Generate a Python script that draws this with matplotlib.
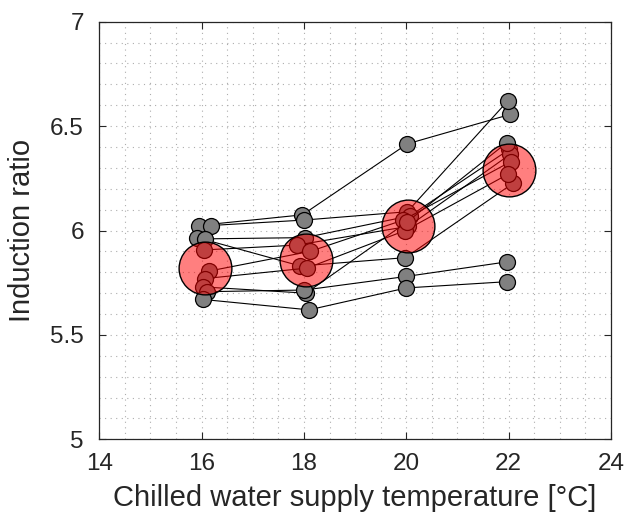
import matplotlib
matplotlib.use("Agg")
import matplotlib.pyplot as plt
from matplotlib.ticker import MultipleLocator

plt.rcParams["font.family"] = ["Liberation Sans", "DejaVu Sans"]

# nominal supply temperatures
temps = [16, 18, 20, 22]

# measured supply temperature (x) and induction ratio (y) for each test series
series_x = [
    [15.94, 17.97, 20.02, 22.03],
    [16.18, 18.00, 20.02, 21.98],
    [15.92, 17.93, 19.98, 22.09],
    [16.07, 18.02, 20.07, 22.01],
    [16.05, 17.86, 20.04, 22.03],
    [16.15, 18.12, 19.94, 22.04],
    [16.07, 18.06, 19.98, 21.99],
    [16.02, 18.04, 20.01, 21.96],
    [16.10, 18.01, 20.00, 21.97],
    [16.02, 18.10, 20.00, 21.97],
]
series_y = [
    [6.024, 6.075, 6.415, 6.556],
    [6.024, 6.050, 6.090, 6.620],
    [5.966, 5.830, 5.870, 6.227],
    [5.960, 5.966, 6.070, 6.388],
    [5.907, 5.930, 6.020, 6.365],
    [5.806, 5.900, 6.050, 6.330],
    [5.770, 5.820, 6.000, 6.270],
    [5.730, 5.700, 6.040, 6.420],
    [5.707, 5.715, 5.780, 5.850],
    [5.670, 5.620, 5.725, 5.755],
]

# group means (big red circles)
mean_x = [16.06, 18.04, 20.03, 22.01]
mean_y = [5.82, 5.857, 6.02, 6.288]

txt = (0.15, 0.15, 0.15)

fig = plt.figure(figsize=(6.28, 5.23), dpi=100)
ax = fig.add_axes([0.158, 0.160, 0.815, 0.7985])

for xs, ys in zip(series_x, series_y):
    ax.plot(xs, ys, "-o", color="k", lw=0.8, ms=11.5, mfc=(0.5, 0.5, 0.5),
            mec="k", mew=0.9, zorder=3)

ax.plot(mean_x, mean_y, "o", ls="none", ms=38, mfc=(1, 0, 0, 0.5),
        mec="k", mew=1.0, zorder=4)

ax.set_xlim(14, 24)
ax.set_ylim(5, 7)
ax.xaxis.set_major_locator(MultipleLocator(2))
ax.xaxis.set_minor_locator(MultipleLocator(0.5))
ax.yaxis.set_minor_locator(MultipleLocator(0.1))
ax.set_yticks([5, 5.5, 6, 6.5, 7])
ax.set_yticklabels(["5", "5.5", "6", "6.5", "7"])

ax.grid(which="both", ls=(0, (1, 4)), lw=0.8, color=(0.68, 0.68, 0.68))
ax.set_axisbelow(True)

ax.tick_params(which="major", direction="in", length=5, width=0.8, colors=txt,
               labelsize=17.5, top=True, right=True)
ax.tick_params(axis="x", which="major", pad=10)
ax.tick_params(axis="y", which="major", pad=11)
ax.tick_params(which="minor", length=0, top=True, right=True)
for sp in ax.spines.values():
    sp.set_color(txt)
    sp.set_linewidth(0.9)

ax.set_xlabel("Chilled water supply temperature [°C]", fontsize=21, color=txt,
              labelpad=6)
ax.set_ylabel("Induction ratio", fontsize=21, color=txt, labelpad=10)

fig.savefig("out.png", dpi=100)
